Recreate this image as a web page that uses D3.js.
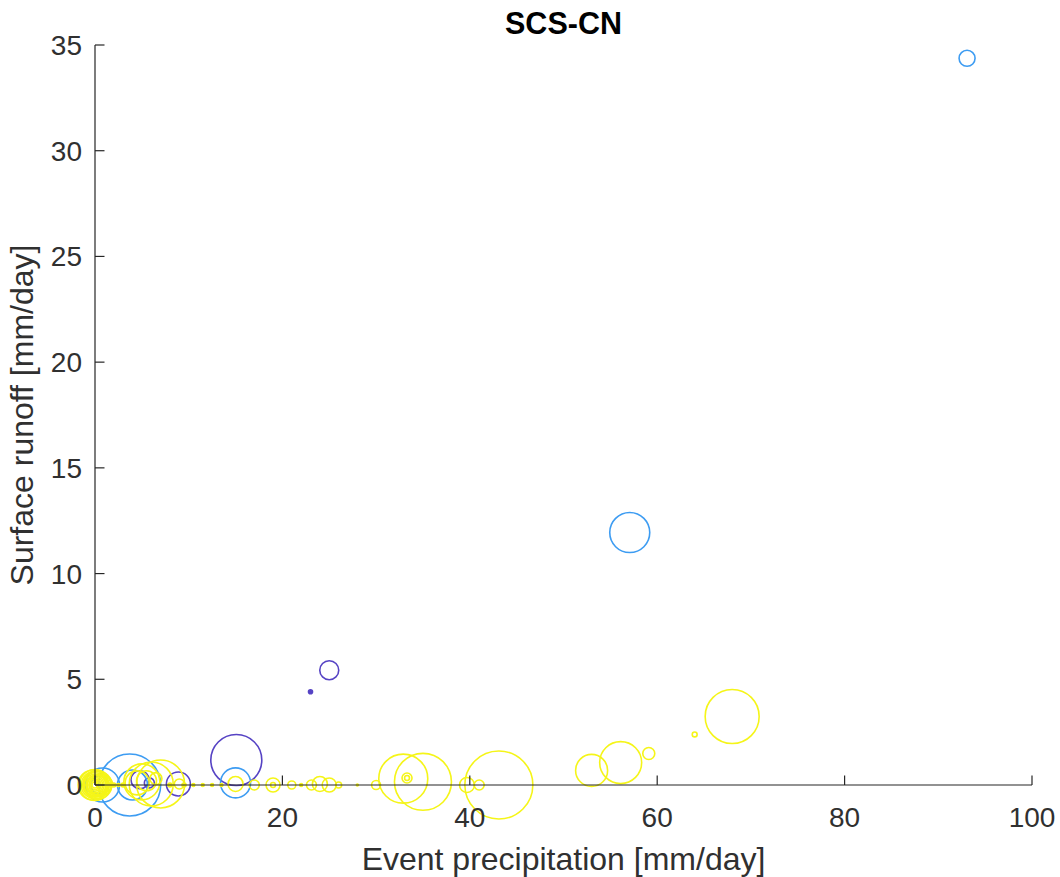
<!DOCTYPE html>
<html>
<head>
<meta charset="utf-8">
<script src="https://cdn.jsdelivr.net/npm/d3@7"></script>
<style>
  body { margin: 0; background: #fff; }
  svg { display: block; font-family: "Liberation Sans", Arial, sans-serif; }
</style>
</head>
<body>
<svg id="chart" width="1060" height="877"></svg>
<script>
// event precipitation [mm/day]
const precip = [
  // group 1 (purple)
  4.8, 5.8, 8.9, 15.08, 23.0, 25.0,
  // group 2 (blue)
  0.5, 0.8, 4.0, 3.7, 15.0, 57.07, 93.07,
  // group 3 (yellow)
  0, 0, 0, 0, 0, 0, 0, 0, 0, 0.3, 0.6, 1.0, 1.5, 2.0, 2.5, 3.0,
  4.5, 5.0, 5.5, 6.0, 7.0, 6.5, 8.0, 9.0, 9.5, 10.5, 11.5, 12.5, 13.5,
  15.0, 17.0, 19.0, 19.0, 21.0, 22.0, 23.1, 24.0, 25.0, 26.0, 28.0, 30.0,
  32.9, 35.0, 33.3, 33.3, 39.7, 41.0, 43.1,
  53.0, 56.1, 59.1, 64.0, 68.0,
  -0.2, 0.1, 0.2
];
// surface runoff [mm/day]
const runoff = [
  0.25, 0.1, 0.05, 1.18, 4.41, 5.43,
  0, 0, 0, 0, 0.1, 11.94, 34.37,
  0, 0, 0, 0, 0, 0, 0, 0, 0, 0, 0, 0.05, 0, 0, 0, 0,
  0.1, 0.15, 0.2, 0.05, 0.05, 0.3, 0, 0.05, 0, 0, 0, 0, 0,
  0.05, 0, 0, 0, 0, 0, 0, 0.05, 0, 0, 0, 0,
  0.3, 0.15, 0.33, 0.33, 0, 0, 0,
  0.69, 1.06, 1.49, 2.39, 3.24,
  0, 0.05, 0
];
// bubble size (scatter S)
const bubbleSize = [
  81, 25, 144, 650, 4, 90,
  81, 289, 225, 961, 225, 400, 64,
  240, 190, 150, 115, 85, 60, 38, 20, 9, 196, 121, 64, 4, 4, 2, 4,
  144, 324, 100, 484, 576, 36, 4, 25, 4, 2, 2, 2, 2,
  56, 25, 49, 6, 16, 2, 25, 56, 49, 9, 1, 20,
  600, 812, 25, 6, 56, 25, 1156,
  256, 441, 36, 6, 729,
  225, 160, 100
];
// colour group
const group = [
  1, 1, 1, 1, 1, 1,
  2, 2, 2, 2, 2, 2, 2,
  3, 3, 3, 3, 3, 3, 3, 3, 3, 3, 3, 3, 3, 3, 3, 3,
  3, 3, 3, 3, 3, 3, 3, 3, 3, 3, 3, 3, 3,
  3, 3, 3, 3, 3, 3, 3, 3, 3, 3, 3, 3,
  3, 3, 3, 3, 3, 3, 3,
  3, 3, 3, 3, 3,
  3, 3, 3
];
const xTicks = [0, 20, 40, 60, 80, 100];
const yTicks = [0, 5, 10, 15, 20, 25, 30, 35];

const margin = { top: 45, right: 28, bottom: 92, left: 95 };
const W = 1060, H = 877;
const width = W - margin.left - margin.right;
const height = H - margin.top - margin.bottom;

const svg = d3.select("#chart");
const g = svg.append("g").attr("transform", "translate(" + margin.left + "," + margin.top + ")");

const x = d3.scaleLinear().domain([0, 100]).range([0, width]);
const y = d3.scaleLinear().domain([0, 35]).range([height, 0]);
const r = d3.scaleSqrt().domain([0, 1156]).range([0, 34]);
const color = d3.scaleOrdinal().domain([1, 2, 3]).range(["#5643c4", "#3d9cf2", "#f5f518"]);

const points = precip.map(function(d, i) {
  return { x: d, y: runoff[i], s: bubbleSize[i], g: group[i] };
});

g.selectAll("circle.pt")
  .data(points)
  .enter()
  .append("circle")
  .attr("class", "pt")
  .attr("cx", function(d) { return x(d.x); })
  .attr("cy", function(d) { return y(d.y); })
  .attr("r", function(d) { return Math.max(r(d.s), 1); })
  .attr("fill", function(d) { return d.s <= 4 ? color(d.g) : "none"; })
  .attr("stroke", function(d) { return color(d.g); })
  .attr("stroke-width", 1.6);

// axes (MATLAB style, inward ticks, no box)
const axisColor = "#262626";
g.append("line")
  .attr("x1", 0).attr("x2", width).attr("y1", height).attr("y2", height)
  .attr("stroke", axisColor).attr("stroke-width", 1.2);
g.append("line")
  .attr("x1", 0).attr("x2", 0).attr("y1", 0).attr("y2", height)
  .attr("stroke", axisColor).attr("stroke-width", 1.2);

g.selectAll("line.xt").data(xTicks).enter().append("line")
  .attr("x1", function(d) { return x(d); }).attr("x2", function(d) { return x(d); })
  .attr("y1", height).attr("y2", height - 9.5)
  .attr("stroke", axisColor).attr("stroke-width", 1.2);
g.selectAll("line.yt").data(yTicks).enter().append("line")
  .attr("x1", 0).attr("x2", 9.5)
  .attr("y1", function(d) { return y(d); }).attr("y2", function(d) { return y(d); })
  .attr("stroke", axisColor).attr("stroke-width", 1.2);

g.selectAll("text.xl").data(xTicks).enter().append("text")
  .attr("x", function(d) { return x(d); })
  .attr("y", height + 42)
  .attr("text-anchor", "middle")
  .attr("font-size", 28)
  .attr("fill", "#303030")
  .text(function(d) { return d; });

g.selectAll("text.yl").data(yTicks).enter().append("text")
  .attr("x", -13)
  .attr("y", function(d) { return y(d) + 10; })
  .attr("text-anchor", "end")
  .attr("font-size", 28)
  .attr("fill", "#303030")
  .text(function(d) { return d; });

// labels
svg.append("text")
  .attr("x", margin.left + width / 2)
  .attr("y", 870)
  .attr("text-anchor", "middle")
  .attr("font-size", 32)
  .attr("fill", "#303030")
  .text("Event precipitation [mm/day]");

svg.append("text")
  .attr("transform", "translate(33," + (margin.top + height / 2) + ") rotate(-90)")
  .attr("text-anchor", "middle")
  .attr("font-size", 32)
  .attr("fill", "#303030")
  .text("Surface runoff [mm/day]");

svg.append("text")
  .attr("x", margin.left + width / 2)
  .attr("y", 34)
  .attr("text-anchor", "middle")
  .attr("font-size", 30.5)
  .attr("font-weight", "bold")
  .attr("fill", "#000")
  .text("SCS-CN");
</script>
</body>
</html>
